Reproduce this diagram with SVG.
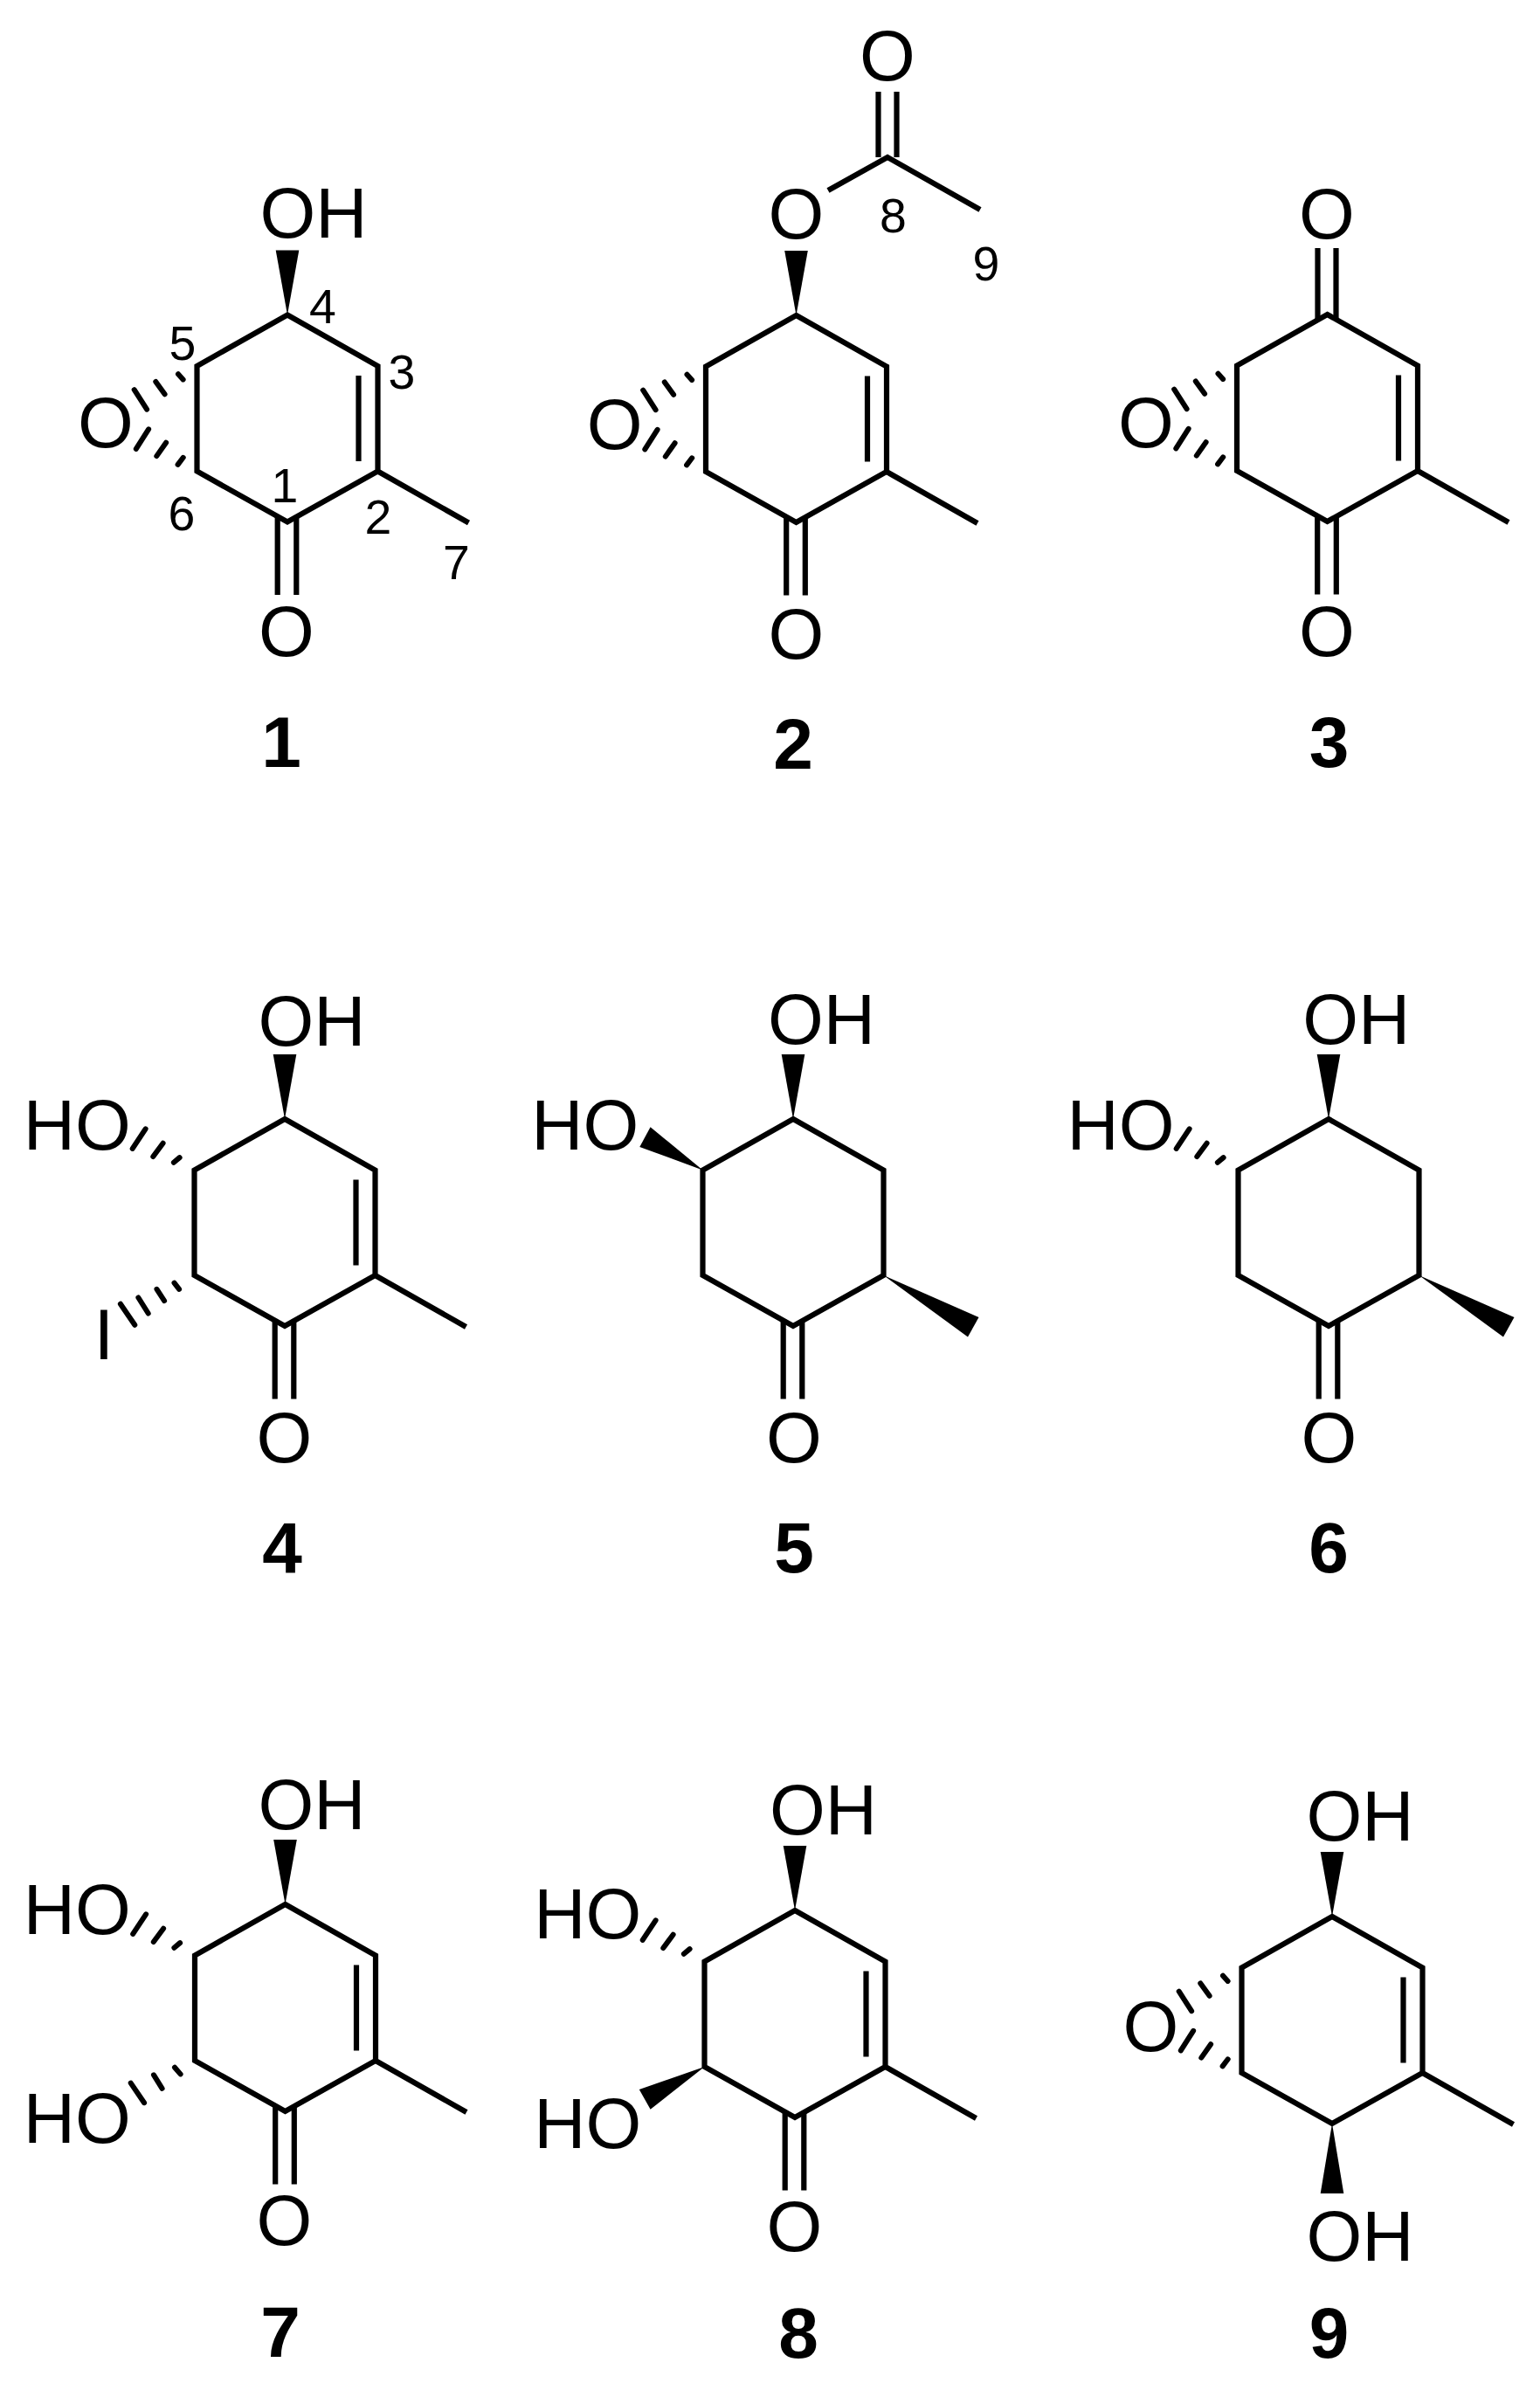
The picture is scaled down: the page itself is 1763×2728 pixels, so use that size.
<svg xmlns="http://www.w3.org/2000/svg" width="1763" height="2728" viewBox="0 0 1763 2728">
<style>
text{font-family:"Liberation Sans",Arial,sans-serif;fill:#000}
.a{font-size:82px}
.m{text-anchor:middle}
.n{font-size:55.4px;text-anchor:middle}
.b{font-size:82px;font-weight:bold;text-anchor:middle}
.bond{fill:none;stroke:#000;stroke-width:6.2;stroke-linejoin:miter;stroke-linecap:butt}
.hash{fill:none;stroke:#000;stroke-width:6;stroke-linecap:round}
.wedge{fill:#000;stroke:none}
</style>
<defs>
<path id="ene" class="bond" d="M0,0L103.5,58.5V179L0,237L-103.5,179V58.5ZM103.5,179L207.5,238M81.5,69.5V167.5"/>
<path id="ane" class="bond" d="M0,0L103.5,58.5V179L0,237L-103.5,179V58.5Z"/>
<path id="co" class="bond" d="M-11.3,-6V83.5M10.3,-6V83.5"/>
<polygon id="wedge-up" class="wedge" points="0,0 -13.3,-74 13.3,-74"/>
<polygon id="wedge-me" class="wedge" points="0,0 109,48 96.5,70.5"/>
<path id="epox-top" class="hash" d="M-21.5,9.2L-15.9,15.4M-47.2,17.9L-36.9,32.3M-71.8,27.2L-57.4,49.7"/>
<path id="epox-bot" class="hash" d="M-21.9,-7.6L-15.8,-15.7M-46.2,-17.4L-35.4,-32.8M-69.7,-25.6L-55.4,-48.2"/>
<path id="hash-oh" class="hash" d="M-23.6,-8.7L-16.9,-14.4M-47.2,-15.4L-35.9,-30.8M-70.8,-24.6L-55.9,-47.2"/>
</defs>
<rect width="1763" height="2728" fill="#fff"/>
<g id="connectors">
<g id="bonds-1">
<use href="#ene" x="329" y="360.5"/><use href="#wedge-up" x="329" y="360.5"/><use href="#co" x="329" y="597.5"/>
<use href="#epox-top" x="225.5" y="419"/><use href="#epox-bot" x="225.5" y="539.5"/>
</g>
<g id="bonds-2">
<use href="#ene" x="911.5" y="361"/><use href="#wedge-up" x="911.5" y="361"/><use href="#co" x="911.5" y="598"/>
<use href="#epox-top" x="808" y="419.5"/><use href="#epox-bot" x="808" y="540"/>
<path class="bond" d="M948,218L1016,180L1122,240M1005.5,180V105M1026.5,180V105"/>
</g>
<g id="bonds-3">
<use href="#ene" x="1519.5" y="360"/><use href="#co" x="1519.5" y="597"/>
<path class="bond" d="M1508.5,366V284M1529.5,366V284"/>
<use href="#epox-top" x="1416" y="418.5"/><use href="#epox-bot" x="1416" y="539"/>
</g>
<g id="bonds-4">
<use href="#ene" x="326" y="1281"/><use href="#wedge-up" x="326" y="1281"/><use href="#co" x="326" y="1518"/>
<use href="#hash-oh" x="222.5" y="1339.5"/>
<path class="hash" d="M199.5,1468.6L205.1,1475.8M179.5,1475.8L188.1,1489.1M158.4,1485.5L169.7,1503.5M137.9,1492.7L154.3,1516.8"/>
</g>
<g id="bonds-5">
<use href="#ane" x="908" y="1281"/><use href="#wedge-up" x="908" y="1281"/><use href="#co" x="908" y="1518"/>
<polygon class="wedge" points="804.5,1339.5 744.6,1290.3 732.3,1312.9"/>
<use href="#wedge-me" x="1011.5" y="1460"/>
</g>
<g id="bonds-6">
<use href="#ane" x="1521" y="1281"/><use href="#wedge-up" x="1521" y="1281"/><use href="#co" x="1521" y="1518"/>
<use href="#hash-oh" x="1417.5" y="1339.5"/>
<use href="#wedge-me" x="1624.5" y="1460"/>
</g>
<g id="bonds-7">
<use href="#ene" x="326.5" y="2180"/><use href="#wedge-up" x="326.5" y="2180"/><use href="#co" x="326.5" y="2417"/>
<use href="#hash-oh" x="223" y="2238.5"/>
<path class="hash" d="M200,2366.8L206.6,2374.4M176,2375.4L185.6,2390.8M149.7,2384.6L165.1,2407.2"/>
</g>
<g id="bonds-8">
<use href="#ene" x="910" y="2187"/><use href="#wedge-up" x="910" y="2187"/><use href="#co" x="910" y="2424"/>
<use href="#hash-oh" x="806.5" y="2245.5"/>
<polygon class="wedge" points="806.5,2366 731.8,2392.1 744.6,2414.7"/>
</g>
<g id="bonds-9">
<use href="#ene" x="1525" y="2194"/><use href="#wedge-up" x="1525" y="2194"/>
<polygon class="wedge" points="1525,2431 1511.7,2511 1538.3,2511"/>
<use href="#epox-top" x="1421.5" y="2252.5"/><use href="#epox-bot" x="1421.5" y="2373"/>
</g>
</g>
<g id="mol-1">
<text class="a" x="297.4" y="272">OH</text>
<text class="a m" x="328" y="751">O</text>
<text class="a m" x="121" y="512">O</text>
<text class="n" x="326" y="574.5">1</text>
<text class="n" x="433" y="610.5">2</text>
<text class="n" x="460" y="445">3</text>
<text class="n" x="369.5" y="369.5">4</text>
<text class="n" x="209" y="411.5">5</text>
<text class="n" x="208" y="606.5">6</text>
<text class="n" x="522.5" y="662.5">7</text>
<text class="b" x="322" y="878">1</text>
</g>
<g id="mol-2">
<text class="a m" x="911.5" y="273">O</text>
<text class="a m" x="1016" y="92">O</text>
<text class="a m" x="911.5" y="754">O</text>
<text class="a m" x="703.6" y="514">O</text>
<text class="n" x="1022.5" y="265.6">8</text>
<text class="n" x="1129" y="320.5">9</text>
<text class="b" x="908" y="880">2</text>
</g>
<g id="mol-3">
<text class="a m" x="1519" y="273">O</text>
<text class="a m" x="1519" y="751">O</text>
<text class="a m" x="1311.8" y="512">O</text>
<text class="b" x="1521.5" y="878">3</text>
</g>
<g id="mol-4">
<text class="a" x="295.4" y="1197">OH</text>
<text class="a" x="26.7" y="1316">HO</text>
<text class="a m" x="119" y="1556">I</text>
<text class="a m" x="325.5" y="1674">O</text>
<text class="b" x="323" y="1800">4</text>
</g>
<g id="mol-5">
<text class="a" x="879" y="1195">OH</text>
<text class="a" x="608.2" y="1316">HO</text>
<text class="a m" x="909" y="1674">O</text>
<text class="b" x="909" y="1800">5</text>
</g>
<g id="mol-6">
<text class="a" x="1491.3" y="1195">OH</text>
<text class="a" x="1221.5" y="1316">HO</text>
<text class="a m" x="1521.5" y="1674">O</text>
<text class="b" x="1521" y="1800">6</text>
</g>
<g id="mol-7">
<text class="a" x="295.4" y="2094">OH</text>
<text class="a" x="26.7" y="2214">HO</text>
<text class="a" x="26.7" y="2453">HO</text>
<text class="a m" x="325.5" y="2570">O</text>
<text class="b" x="321" y="2698">7</text>
</g>
<g id="mol-8">
<text class="a" x="881" y="2100">OH</text>
<text class="a" x="611.3" y="2219">HO</text>
<text class="a" x="611.3" y="2459">HO</text>
<text class="a m" x="909.5" y="2577">O</text>
<text class="b" x="914" y="2699">8</text>
</g>
<g id="mol-9">
<text class="a" x="1495.4" y="2107">OH</text>
<text class="a" x="1495.4" y="2588">OH</text>
<text class="a m" x="1317.4" y="2348">O</text>
<text class="b" x="1521.5" y="2699">9</text>
</g>
</svg>
